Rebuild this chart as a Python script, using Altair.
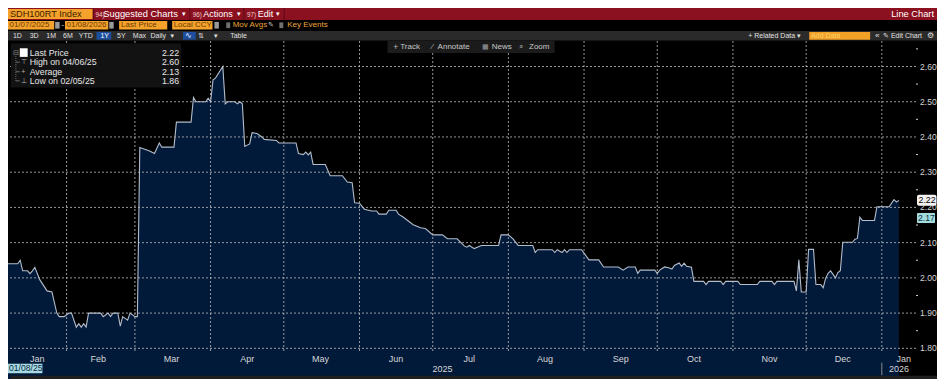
import altair as alt
import pandas as pd

# ---------------- data ----------------
dates = [
    "2025-01-08", "2025-01-12", "2025-01-13", "2025-01-14", "2025-01-16", "2025-01-17", "2025-01-18",
    "2025-01-19", "2025-01-21", "2025-01-24", "2025-01-26", "2025-01-28", "2025-01-29", "2025-01-31",
    "2025-02-02", "2025-02-03", "2025-02-05", "2025-02-06", "2025-02-07", "2025-02-08", "2025-02-09",
    "2025-02-10", "2025-02-15", "2025-02-16", "2025-02-18", "2025-02-19", "2025-02-20", "2025-02-22",
    "2025-02-23", "2025-02-24", "2025-02-26", "2025-02-27", "2025-03-01", "2025-03-02", "2025-03-03",
    "2025-03-07", "2025-03-09", "2025-03-11", "2025-03-12", "2025-03-17", "2025-03-18", "2025-03-24",
    "2025-03-25", "2025-03-26", "2025-03-30", "2025-03-31", "2025-04-01", "2025-04-02", "2025-04-03",
    "2025-04-06", "2025-04-07", "2025-04-08", "2025-04-11", "2025-04-12", "2025-04-13", "2025-04-14",
    "2025-04-15", "2025-04-17", "2025-04-18", "2025-04-20", "2025-04-22", "2025-04-23", "2025-04-28",
    "2025-04-29", "2025-05-06", "2025-05-07", "2025-05-09", "2025-05-10", "2025-05-11", "2025-05-12",
    "2025-05-13", "2025-05-18", "2025-05-20", "2025-05-25", "2025-05-27", "2025-05-29", "2025-05-30",
    "2025-06-01", "2025-06-03", "2025-06-06", "2025-06-08", "2025-06-09", "2025-06-12", "2025-06-13",
    "2025-06-16", "2025-06-17", "2025-06-19", "2025-06-23", "2025-06-26", "2025-06-28", "2025-07-01",
    "2025-07-05", "2025-07-07", "2025-07-11", "2025-07-14", "2025-07-15", "2025-07-16", "2025-07-18",
    "2025-07-21", "2025-07-28", "2025-07-29", "2025-08-01", "2025-08-03", "2025-08-05", "2025-08-11",
    "2025-08-12", "2025-08-13", "2025-08-19", "2025-08-20", "2025-08-21", "2025-08-23", "2025-08-24",
    "2025-08-25", "2025-08-26", "2025-08-31", "2025-09-03", "2025-09-07", "2025-09-09", "2025-09-15",
    "2025-09-17", "2025-09-19", "2025-09-22", "2025-09-23", "2025-09-24", "2025-09-30", "2025-10-01",
    "2025-10-02", "2025-10-04", "2025-10-06", "2025-10-07", "2025-10-08", "2025-10-10", "2025-10-11",
    "2025-10-12", "2025-10-13", "2025-10-15", "2025-10-16", "2025-10-20", "2025-10-21", "2025-10-22",
    "2025-10-27", "2025-10-28", "2025-10-29", "2025-11-03", "2025-11-04", "2025-11-11", "2025-11-12",
    "2025-11-17", "2025-11-18", "2025-11-19", "2025-11-26", "2025-11-27", "2025-11-28", "2025-11-29",
    "2025-12-01", "2025-12-02", "2025-12-04", "2025-12-05", "2025-12-07", "2025-12-08", "2025-12-09",
    "2025-12-10", "2025-12-11", "2025-12-13", "2025-12-14", "2025-12-15", "2025-12-16", "2025-12-20",
    "2025-12-21", "2025-12-22", "2025-12-23", "2025-12-24", "2025-12-29", "2025-12-30", "2026-01-04",
    "2026-01-06", "2026-01-07", "2026-01-08",
]
values = [
    2.04, 2.04, 2.05, 2.02, 2.02, 2.012, 2.02,
    2.03, 1.995, 1.963, 1.96, 1.90, 1.89, 1.89,
    1.90, 1.90, 1.86, 1.87, 1.86, 1.87, 1.86,
    1.90, 1.90, 1.89, 1.90, 1.89, 1.90, 1.90,
    1.863, 1.89, 1.88, 1.90, 1.89, 1.89, 2.37,
    2.36, 2.353, 2.383, 2.371, 2.371, 2.442, 2.442,
    2.512, 2.50, 2.50, 2.51, 2.50, 2.562, 2.567,
    2.60, 2.494, 2.50, 2.50, 2.494, 2.50, 2.494,
    2.373, 2.38, 2.412, 2.41, 2.40, 2.393, 2.39,
    2.383, 2.383, 2.353, 2.35, 2.357, 2.349, 2.357,
    2.322, 2.322, 2.29, 2.29, 2.272, 2.27, 2.213,
    2.212, 2.195, 2.19, 2.19, 2.181, 2.181, 2.192,
    2.192, 2.181, 2.172, 2.151, 2.142, 2.14, 2.122,
    2.122, 2.111, 2.111, 2.09, 2.087, 2.092, 2.083,
    2.092, 2.092, 2.122, 2.122, 2.11, 2.092, 2.092,
    2.072, 2.08, 2.08, 2.072, 2.08, 2.072, 2.08,
    2.072, 2.08, 2.08, 2.051, 2.051, 2.031, 2.031,
    2.022, 2.031, 2.031, 2.013, 2.022, 2.022, 2.013,
    2.022, 2.031, 2.028, 2.025, 2.035, 2.042, 2.033,
    2.042, 2.033, 2.03, 1.99, 1.99, 1.981, 1.99,
    1.99, 1.981, 1.99, 1.99, 1.981, 1.981, 1.99,
    1.99, 1.981, 1.99, 1.99, 1.963, 2.051, 1.96,
    1.96, 2.081, 2.081, 1.981, 1.981, 1.972, 1.999,
    2.013, 2.02, 2.00, 2.015, 2.02, 2.101, 2.101,
    2.11, 2.112, 2.172, 2.163, 2.163, 2.202, 2.202,
    2.222, 2.215, 2.22,
]

y_ticks = [1.80, 1.90, 2.00, 2.10, 2.20, 2.30, 2.40, 2.50, 2.60]
y_tick_labels = ["1.80", "1.90", "2.00", "2.10", "2.20", "2.30", "2.40", "2.50", "2.60"]
y_minor = [1.85, 1.95, 2.05, 2.15, 2.25, 2.35, 2.45, 2.55, 2.65]
month_starts = ["2025-02-01", "2025-03-01", "2025-04-01", "2025-05-01", "2025-06-01", "2025-07-01",
                "2025-08-01", "2025-09-01", "2025-10-01", "2025-11-01", "2025-12-01", "2026-01-01"]
month_names = ["Jan", "Feb", "Mar", "Apr", "May", "Jun", "Jul", "Aug", "Sep", "Oct", "Nov", "Dec", "Jan"]
month_label_dates = ["2025-01-20", "2025-02-14", "2025-03-16", "2025-04-16", "2025-05-16", "2025-06-16",
                     "2025-07-16", "2025-08-16", "2025-09-16", "2025-10-16", "2025-11-16", "2025-12-16",
                     "2026-01-10"]
year_names = ["2025", "2026"]
year_label_dates = ["2025-07-05", "2026-01-08"]
year_breaks = ["2026-01-01"]

stat_names = ["Last Price", "High on 04/06/25", "Average", "Low on 02/05/25"]
stat_values = [2.22, 2.60, 2.13, 1.86]
marker_value = 2.17

# ---------------- layout ----------------
TOTAL_W, TOTAL_H = 929, 371
SX, SY = TOTAL_W / 945, TOTAL_H / 387
PT = 33
PW, PH = 908, 312
FONT = "Liberation Sans, Arial, sans-serif"
GRID = "#bdbdbd"

def X(rx):
    return rx * SX

def Y(ry):
    return ry * SY - PT

one = pd.DataFrame({"k": [0]})

def box(x1, y1, x2, y2, color, r=0):
    return alt.Chart(one).mark_rect(color=color, cornerRadius=r).encode(
        x=alt.value(X(x1)), x2=alt.value(X(x2)), y=alt.value(Y(y1)), y2=alt.value(Y(y2)))

def vline(x, y1, y2, color, dash=None):
    kw = {"strokeDash": dash} if dash else {}
    return alt.Chart(one).mark_rule(color=color, strokeWidth=1, **kw).encode(
        x=alt.value(X(x)), y=alt.value(Y(y1)), y2=alt.value(Y(y2)))

def hline(x1, x2, y, color):
    return alt.Chart(one).mark_rule(color=color, strokeWidth=1).encode(
        x=alt.value(X(x1)), x2=alt.value(X(x2)), y=alt.value(Y(y)))

def txt(s, x, y, color, size, align="left", weight="normal"):
    return alt.Chart(one).mark_text(text=s, align=align, baseline="middle", color=color,
                                    fontSize=size, font=FONT, fontWeight=weight).encode(
        x=alt.value(X(x)), y=alt.value(Y(y)))

xscale = alt.Scale(type="utc", nice=False,
                   domain=[alt.DateTime(year=2025, month=1, date=8, utc=True),
                           alt.DateTime(year=2026, month=1, date=15, utc=True)])
yscale = alt.Scale(domain=[1.7867, 2.6724], zero=False, nice=False)

df = pd.DataFrame({"date": dates, "value": values})
base = alt.Chart(df)

xaxis = alt.Axis(values=[alt.DateTime(year=int(d[:4]), month=int(d[5:7]), date=1, utc=True) for d in month_starts],
                 labels=False, grid=False, tickSize=3, tickColor="#9a9a9a", domainColor="#a8a8a8",
                 title=None)
yaxis = alt.Axis(orient="right", values=y_ticks, labels=False, grid=False, tickSize=3, tickColor="#e0e0e0",
                 domainColor="#a8a8a8", title=None)

area = base.mark_area(color="#021a3a", interpolate="linear").encode(
    x=alt.X("date:T", scale=xscale, axis=xaxis),
    y=alt.Y("value:Q", scale=yscale, axis=yaxis),
    y2=alt.value(PH),
)
line = base.mark_line(color="#b3bccb", strokeWidth=1.1, interpolate="linear").encode(
    x=alt.X("date:T", scale=xscale, axis=None), y=alt.Y("value:Q", scale=yscale, axis=None))

vgrid = alt.Chart(pd.DataFrame({"date": month_starts})).mark_rule(
    color=GRID, strokeDash=[2, 2], strokeWidth=1, opacity=0.8).encode(
    x=alt.X("date:T", scale=xscale, axis=None))
hgrid = alt.Chart(pd.DataFrame({"v": y_ticks})).mark_rule(
    color=GRID, strokeDash=[2, 2], strokeWidth=1, opacity=0.8).encode(
    y=alt.Y("v:Q", scale=yscale, axis=None))
minor = alt.Chart(pd.DataFrame({"v": y_minor})).mark_rule(color="#cfcfcf", strokeWidth=1).encode(
    y=alt.Y("v:Q", scale=yscale, axis=None), x=alt.value(PW), x2=alt.value(PW + 2))
ylabels = alt.Chart(pd.DataFrame({"v": y_ticks, "label": y_tick_labels})).mark_text(
    color="#d2d2d2", fontSize=8.6, font=FONT, align="left", baseline="middle").encode(
    y=alt.Y("v:Q", scale=yscale, axis=None), x=alt.value(PW + 4), text="label:N")

month_text = alt.Chart(pd.DataFrame({"date": month_label_dates, "name": month_names})).mark_text(
    color="#d6d6d6", fontSize=9, font=FONT, baseline="middle").encode(
    x=alt.X("date:T", scale=xscale, axis=None), y=alt.value(Y(366.5)), text="name:N")
year_text = alt.Chart(pd.DataFrame({"date": year_label_dates, "name": year_names})).mark_text(
    color="#d6d6d6", fontSize=9, font=FONT, baseline="middle").encode(
    x=alt.X("date:T", scale=xscale, axis=None), y=alt.value(Y(377)), text="name:N")
year_tick = alt.Chart(pd.DataFrame({"date": year_breaks})).mark_rule(color="#8a8a8a").encode(
    x=alt.X("date:T", scale=xscale, axis=None), y=alt.value(Y(370)), y2=alt.value(Y(383)))

# right-hand value tags
last_box = alt.Chart(one).mark_rect(color="#f2f2f2", cornerRadius=2, yOffset=-5.5, y2Offset=5.5).encode(
    y=alt.datum(stat_values[0]), y2=alt.datum(stat_values[0]), x=alt.value(PW + 1), x2=alt.value(PW + 20.5))
last_txt = alt.Chart(one).mark_text(text=f"{stat_values[0]:.2f}", color="#000000", fontSize=8.8, font=FONT,
                                    align="left", baseline="middle").encode(
    y=alt.datum(stat_values[0]), x=alt.value(PW + 2.5))
mk_box = alt.Chart(one).mark_rect(color="#a3dcdf", cornerRadius=1, yOffset=-5, y2Offset=5).encode(
    y=alt.datum(marker_value), y2=alt.datum(marker_value), x=alt.value(PW + 1), x2=alt.value(PW + 19))
mk_txt = alt.Chart(one).mark_text(text=f"{marker_value:.2f}", color="#0c3440", fontSize=8.6, font=FONT,
                                  align="left", baseline="middle").encode(
    y=alt.datum(marker_value), x=alt.value(PW + 2))

deco = [
    # top red bar
    box(0, 0, 945, 12.5, "#8b1121"),
    box(0, 1, 86, 11.5, "#f5a22c"),
    txt("SDH100RT Index", 2, 6.5, "#3a2100", 9.2),
    vline(87, 0, 12.5, "#5e0a16"), vline(185, 0, 12.5, "#5e0a16"),
    vline(240, 0, 12.5, "#5e0a16"), vline(281, 0, 12.5, "#5e0a16"),
    txt("94)", 89, 6.8, "#efd0d0", 6.3), txt("Suggested Charts", 97, 6.5, "#ffffff", 9.3),
    txt("▾", 177, 6.5, "#ffffff", 7),
    txt("96)", 188, 6.8, "#efd0d0", 6.3), txt("Actions", 198.5, 6.5, "#ffffff", 9),
    txt("▾", 233, 6.5, "#ffffff", 7),
    txt("97)", 243, 6.8, "#efd0d0", 6.3), txt("Edit", 254, 6.5, "#ffffff", 9),
    txt("▾", 273, 6.5, "#ffffff", 7),
    txt("Line Chart", 942, 6.5, "#ffffff", 9.3, align="right"),
    # second row
    box(0, 13.5, 47, 22.5, "#f5a22c"), box(48, 14.5, 52.5, 21.5, "#9a9a9a"),
    txt("01/07/2025", 1.5, 18, "#6a3a00", 8),
    txt("-", 54.5, 18, "#dddddd", 8),
    box(58, 13.5, 102, 22.5, "#f5a22c"), box(103, 14.5, 107.5, 21.5, "#9a9a9a"),
    txt("01/08/2026", 59.5, 18, "#6a3a00", 8),
    box(113, 13.5, 162, 22.5, "#f5a22c"), txt("Last Price", 115, 18, "#6a3a00", 8),
    box(167, 13.5, 208, 22.5, "#f5a22c"), txt("Local CCY", 168.5, 18, "#6a3a00", 8),
    box(210, 14.5, 214.5, 21.5, "#9a9a9a"),
    box(222, 15, 226, 21, "#707070"), txt("Mov Avgs", 228.5, 18, "#eda43a", 8),
    txt("✎", 264, 18, "#cccccc", 7),
    box(276, 15, 280, 21, "#707070"), txt("Key Events", 284, 18, "#eda43a", 8),
    # third row
    box(0, 24, 945, 34, "#2a2a2a"),
    box(90, 25, 105, 33, "#1d4f9e"), box(178, 25, 191, 33, "#1d4f9e"),
    txt("1D", 5, 29, "#e0e0e0", 7), txt("3D", 22, 29, "#e0e0e0", 7),
    txt("1M", 39, 29, "#e0e0e0", 7), txt("6M", 56, 29, "#e0e0e0", 7),
    txt("YTD", 72, 29, "#e0e0e0", 7), txt("1Y", 94, 29, "#ffffff", 7),
    txt("5Y", 111, 29, "#e0e0e0", 7), txt("Max", 127, 29, "#e0e0e0", 7),
    txt("Daily", 145, 29, "#e0e0e0", 7), txt("▼", 164, 29, "#e0e0e0", 6),
    txt("∿", 180, 29, "#ffffff", 8), txt("⇅", 193, 29, "#e0e0e0", 7),
    txt("▾", 210, 29, "#e0e0e0", 7), txt("Table", 226, 29, "#e0e0e0", 7),
    txt("+ Related Data ▾", 753, 29, "#e0e0e0", 7),
    box(815, 25, 877, 33, "#f2a126"), txt("Add Data", 817, 29, "#f8cf6a", 7),
    txt("«", 882, 29, "#e0e0e0", 8), txt("✎ Edit Chart", 890, 29, "#e0e0e0", 7),
    txt("⚙", 935, 29, "#e0e0e0", 8),
    # chart toolbar
    box(386, 34.5, 556, 47, "#1b1b1b"),
    txt("+", 392, 40.5, "#bdbdbd", 8.5), txt("Track", 399, 40.5, "#c8c8c8", 8),
    txt("⁄", 431, 40.5, "#bdbdbd", 8), txt("Annotate", 437, 40.5, "#c8c8c8", 8),
    txt("▦", 482, 40.5, "#9a9a9a", 7), txt("News", 492, 40.5, "#c8c8c8", 8),
    txt("⌕", 520, 40.5, "#9a9a9a", 8), txt("Zoom", 530, 40.5, "#c8c8c8", 8),
    # legend
    box(3, 37, 176, 83, "#121212"),
    vline(8, 50, 77, "#6a6a6a", dash=[1, 1]),
    hline(8, 12, 56.5, "#6a6a6a"), hline(8, 12, 66.5, "#6a6a6a"), hline(8, 12, 76, "#6a6a6a"),
    txt("⊟", 5.5, 46.5, "#8a8a8a", 7),
    box(12, 42, 20, 51, "#ffffff"),
    txt("⊤", 13.5, 56.5, "#b0b0b0", 7), txt("+", 13.5, 66.5, "#b0b0b0", 7), txt("⊥", 13.5, 76, "#b0b0b0", 7),
    box(3, 383.5, 945, 387, "#202020"),
    box(0, 371, 35, 381, "#a6d9e3"), txt("01/08/25", 1, 376, "#0b2a40", 8.6),
]
legend_rows = [46.5, 56.5, 66.5, 76]
for name, val, ry in zip(stat_names, stat_values, legend_rows):
    deco.append(txt(name, 22, ry, "#e6e6e6", 8.8))
    deco.append(txt(f"{val:.2f}", 174, ry, "#e6e6e6", 8.8, align="right"))

chart = alt.layer(
    area, line, vgrid, hgrid, minor, ylabels, month_text, year_text, year_tick,
    last_box, last_txt, mk_box, mk_txt, *deco
).properties(
    width=PW, height=PH,
    padding={"left": 0, "top": PT, "right": TOTAL_W - PW, "bottom": TOTAL_H - PT - PH},
    autosize=alt.AutoSizeParams(type="none"),
    background="#000000",
).configure_view(stroke=None, fill="#000000")

chart.save("out.html", embed_options={"renderer": "svg", "actions": False})
